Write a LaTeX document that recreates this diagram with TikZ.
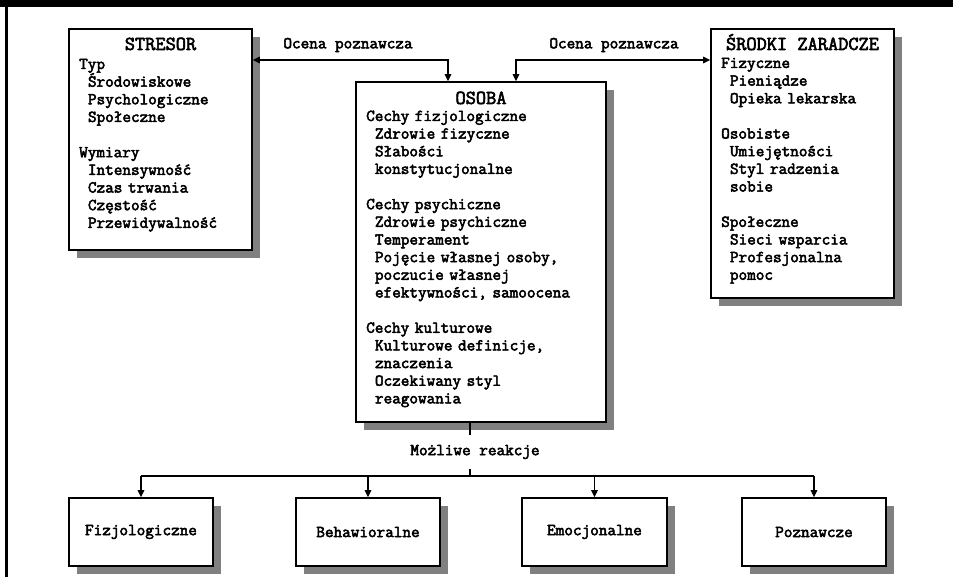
\documentclass[tikz,border=0pt]{standalone}
\usepackage{fontspec}
\newfontfamily\cour{Latin Modern Mono}[FakeBold=3]
\usetikzlibrary{arrows.meta,shadows}
\definecolor{shadowgray}{HTML}{808080}
\newcommand\ii{\hspace*{0.525em}}
\begin{document}
\begin{tikzpicture}[x=1pt,y=-1pt,
  body/.style={font=\cour\fontsize{16.72}{17.65}\selectfont},
  titletext/.style={font=\cour\fontsize{19.8}{22}\selectfont, inner sep=0pt, anchor=base},
  bodytext/.style={body, inner sep=0pt, anchor=base west, text width=260pt, align=left},
  box/.style={draw=black, line width=1.6pt, fill=white, rectangle, inner sep=0pt,
    drop shadow={shadow xshift=8pt, shadow yshift=-8pt, fill=shadowgray, opacity=1}},
  conn/.style={line width=1.5pt, draw=black},
  tip/.style={-{Triangle[length=7pt,width=6.5pt]}},
  lbl/.style={body, inner sep=0pt}
]
\useasboundingbox (0,0) rectangle (953,577);
\fill[white] (0,0) rectangle (953,577);
\fill[black] (0,0) rectangle (953,7);
\fill[black] (5,0) rectangle (7.5,577);

% boxes
\node[box, minimum width=183pt, minimum height=221pt] (stresor) at (160.5,139.5) {};
\node[box, minimum width=250pt, minimum height=340pt] (osoba) at (481,252) {};
\node[box, minimum width=183pt, minimum height=269pt] (srodki) at (802.5,163.5) {};

\node[box, body, minimum width=144pt, minimum height=68pt] (fiz) at (141,532) {Fizjologiczne};
\node[box, body, minimum width=144pt, minimum height=68pt] (beh) at (368,532) {Behawioralne};
\node[box, body, minimum width=145pt, minimum height=68pt] (emo) at (594.5,532) {Emocjonalne};
\node[box, body, minimum width=144pt, minimum height=68pt] (poz) at (814,532) {Poznawcze};

% texts
\node[titletext] (stresor-t) at (160.5,50) {STRESOR};
\node[bodytext] (stresor-b) at (79,69) {Typ\\
\ii Środowiskowe\\
\ii Psychologiczne\\
\ii Społeczne\\[17.65pt]
Wymiary\\
\ii Intensywność\\
\ii Czas trwania\\
\ii Częstość\\
\ii Przewidywalność};

\node[titletext] (osoba-t) at (481,104) {OSOBA};
\node[bodytext] (osoba-b) at (366,121) {Cechy fizjologiczne\\
\ii Zdrowie fizyczne\\
\ii Słabości\\
\ii konstytucjonalne\\[17.65pt]
Cechy psychiczne\\
\ii Zdrowie psychiczne\\
\ii Temperament\\
\ii Pojęcie własnej osoby,\\
\ii poczucie własnej\\
\ii efektywności, samoocena\\[17.65pt]
Cechy kulturowe\\
\ii Kulturowe definicje,\\
\ii znaczenia\\
\ii Oczekiwany styl\\
\ii reagowania};

\node[titletext] (srodki-t) at (802.5,50) {ŚRODKI ZARADCZE};
\node[bodytext] (srodki-b) at (721,68) {Fizyczne\\
\ii Pieniądze\\
\ii Opieka lekarska\\[17.65pt]
Osobiste\\
\ii Umiejętności\\
\ii Styl radzenia\\
\ii sobie\\[17.65pt]
Społeczne\\
\ii Sieci wsparcia\\
\ii Profesjonalna\\
\ii pomoc};

% top connectors
\coordinate (lk) at (448,60);
\coordinate (rk) at (516,60);
\node[lbl] (ocena1) at (348,45) {Ocena poznawcza};
\node[lbl] (ocena2) at (614,45) {Ocena poznawcza};
\draw[conn, {Triangle[length=7pt,width=6.5pt]}-{Triangle[length=7pt,width=6.5pt]}]
  (stresor.east |- lk) -- (lk) -- (osoba.north -| lk);
\draw[conn, {Triangle[length=7pt,width=6.5pt]}-{Triangle[length=7pt,width=6.5pt]}]
  (osoba.north -| rk) -- (rk) -- (srodki.west |- rk);

% bottom connectors
\coordinate (hub) at (470,476);
\node[lbl, minimum height=33pt] (mozliwe) at (475,452) {Możliwe reakcje};
\draw[conn] (osoba.south -| hub) -- (mozliwe.north -| hub);
\draw[conn] (mozliwe.south -| hub) -- (hub);
\draw[conn] (fiz.north |- hub) -- (poz.north |- hub);
\draw[conn, tip] (fiz.north |- hub) -- (fiz.north);
\draw[conn, tip] (beh.north |- hub) -- (beh.north);
\draw[conn, tip] (emo.north |- hub) -- (emo.north);
\draw[conn, tip] (poz.north |- hub) -- (poz.north);
\end{tikzpicture}
\end{document}
